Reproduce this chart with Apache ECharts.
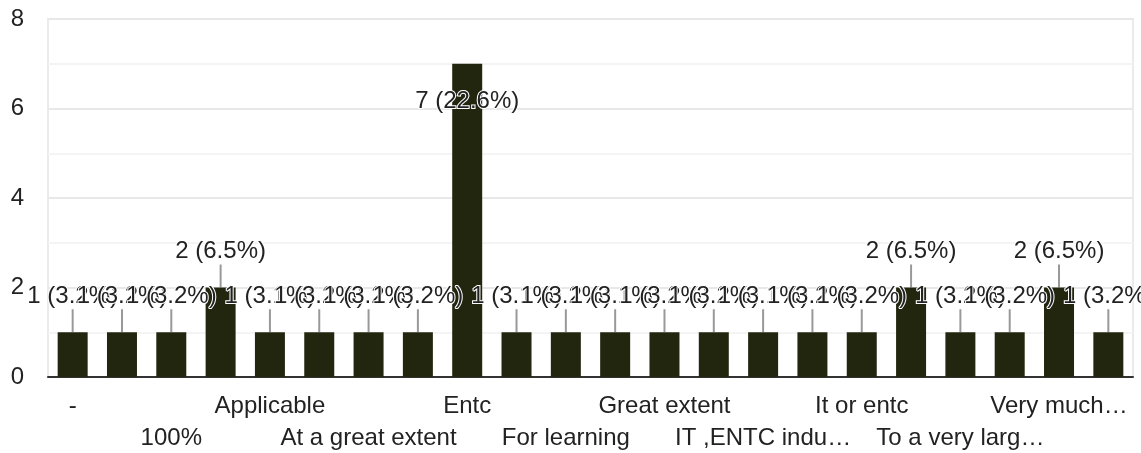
<!DOCTYPE html>
<html lang="en">
<head>
    <meta charset="UTF-8">
    <title>Responses</title>
    <style type="text/css">
        *{
            margin: 0;
            padding: 0;
        }
        #main{
            width: 1141px;
            height: 453px;
            position: absolute;
        }
    </style>
</head>
<body>
    <div id="main"></div>
    <script src="https://cdn.jsdelivr.net/npm/echarts@6/dist/echarts.min.js"></script>
    <script type="text/javascript">
        var categories = ['-', '0', '100%', 'Agree', 'Applicable', 'Applicable for IT', 'At a great extent', 'Depends',
            'Entc', 'Entc industry', 'For learning', 'Good', 'Great extent', 'Helpful', 'IT ,ENTC indu…', 'IT sector',
            'It or entc', 'Maybe', 'To a very larg…', 'Useful', 'Very much…', 'Yes'];
        var counts = [1, 1, 1, 2, 1, 1, 1, 1, 7, 1, 1, 1, 1, 1, 1, 1, 1, 2, 1, 1, 2, 1];
        var percents = ['3.2', '3.2', '3.2', '6.5', '3.1', '3.2', '3.2', '3.2', '22.6', '3.1', '3.2',
            '3.1', '3.2', '3.2', '3.1', '3.2', '3.2', '6.5', '3.2', '3.2', '6.5', '3.2'];
        var yTicks = [0, 8, 2];   // min, max, step

        var font = 'Liberation Sans, Arial, sans-serif';
        var myChart = echarts.init(document.getElementById('main'));

        // x labels go on two staggered rows: row 0 gets index 0,4,8.. row 1 gets 2,6,10..
        function labelRow(row, margin) {
            return {
                show: true,
                margin: margin,
                fontSize: 24,
                color: '#222',
                fontFamily: font,
                interval: function (index) {
                    return index % 4 === row * 2;
                }
            };
        }

        var option = {
            animation: false,
            textStyle: { fontFamily: font },
            grid: {
                left: 48,
                right: 8,
                top: 19,
                bottom: 76,
                show: true,
                borderColor: '#ebebeb',
                borderWidth: 2
            },
            xAxis: [{
                type: 'category',
                data: categories,
                axisTick: { show: false },
                axisLine: { lineStyle: { color: '#333', width: 2 } },
                axisLabel: labelRow(0, 17)
            }, {
                type: 'category',
                data: categories,
                position: 'bottom',
                axisTick: { show: false },
                axisLine: { show: false },
                splitLine: { show: false },
                axisLabel: labelRow(1, 49)
            }],
            yAxis: {
                type: 'value',
                min: yTicks[0],
                max: yTicks[1],
                interval: yTicks[2],
                axisLine: { show: false },
                axisTick: { show: false },
                axisLabel: { margin: 24, fontSize: 24, color: '#222', fontFamily: font },
                splitLine: { lineStyle: { color: '#e8e8e8', width: 2 } },
                minorTick: { show: false, splitNumber: 2 },
                minorSplitLine: { show: true, lineStyle: { color: '#f4f4f4', width: 2 } }
            },
            series: [{
                type: 'bar',
                xAxisIndex: 0,
                data: counts,
                barWidth: 30,
                itemStyle: { color: '#23260f' },
                label: {
                    show: true,
                    position: 'top',
                    distance: 24,
                    fontSize: 24,
                    color: '#222',
                    fontFamily: font,
                    textBorderColor: '#fff',
                    textBorderWidth: 2,
                    formatter: function (p) {
                        return counts[p.dataIndex] + ' (' + percents[p.dataIndex] + '%)';
                    }
                },
                labelLine: {
                    show: true,
                    lineStyle: { color: '#999', width: 2 }
                },
                labelLayout: function (p) {
                    // the tallest bar keeps its label inside the plot
                    if (counts[p.dataIndex] >= 7) {
                        return { dy: 74 };
                    }
                    return {};
                }
            }]
        };

        myChart.setOption(option);
    </script>
</body>
</html>
